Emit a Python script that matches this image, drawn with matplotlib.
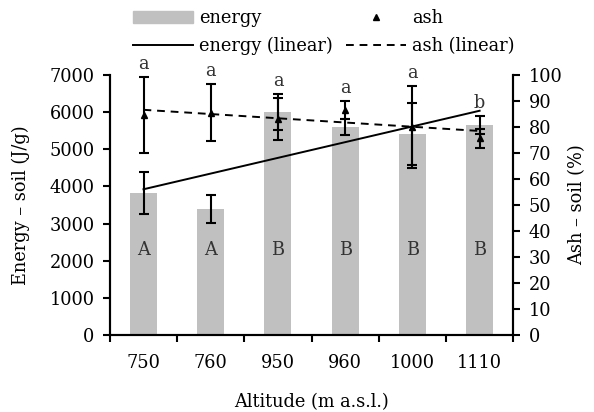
import matplotlib
matplotlib.use("Agg")
import matplotlib.pyplot as plt
from matplotlib.patches import Patch
from matplotlib.lines import Line2D
import numpy as np

altitude = ["750", "760", "950", "960", "1000", "1110"]
energy = [3820, 3390, 6010, 5600, 5410, 5650]
energy_err = [560, 380, 480, 210, 840, 250]
ash = [84.5, 85.5, 83.0, 86.5, 80.0, 75.7]
ash_err = [14.6, 11.0, 8.2, 3.5, 15.6, 3.7]
energy_groups = ["A", "A", "B", "B", "B", "B"]
ash_groups = ["a", "a", "a", "a", "a", "b"]

plt.rcParams['font.family'] = ['DejaVu Serif']
plt.rcParams['font.size'] = 12.8

x = np.arange(len(altitude))

fig = plt.figure(figsize=(5.94, 4.12), dpi=100)
ax = fig.add_axes([0.185, 0.187, 0.679, 0.631])
ax2 = ax.twinx()

ax.bar(x, energy, width=0.4, color='#c0c0c0', zorder=1)
ax.errorbar(x, energy, yerr=energy_err, fmt='none', ecolor='black',
            elinewidth=1.5, capsize=3.3, capthick=1.5, zorder=3)

# linear trends
pe = np.polyfit(x, energy, 1)
ax.plot(x, np.polyval(pe, x), color='black', lw=1.4, zorder=4)

ax2.errorbar(x, ash, yerr=ash_err, fmt='^', color='black', ms=5,
             elinewidth=1.5, capsize=3.3, capthick=1.5, zorder=3)
pa = np.polyfit(x, ash, 1)
ax2.plot(x, np.polyval(pa, x), color='black', lw=1.4, ls=(0, (4, 3)), zorder=4)

for i in x:
    ax.text(i, 2300, energy_groups[i], ha='center', va='center', color='#333333')
    top = max(ash[i] + ash_err[i], (energy[i] + energy_err[i]) / 70.0)
    ax2.annotate(ash_groups[i], (i, top), xytext=(0, 3), textcoords='offset points',
                 ha='center', va='bottom', color='#333333',
                 annotation_clip=False)

ax.set_xlim(-0.5, len(altitude) - 0.5)
ax.set_ylim(0, 7000)
ax2.set_ylim(0, 100)
ax.set_yticks(range(0, 7001, 1000))
ax2.set_yticks(range(0, 101, 10))

ax.set_xticks(x)
ax.set_xticklabels(altitude)
ax.set_xticks(np.arange(-0.5, len(altitude), 1), minor=True)
ax.tick_params(axis='x', which='major', length=0, pad=14)
ax.tick_params(axis='x', which='minor', length=5, width=1.5, direction='out')
ax.tick_params(axis='y', length=5, width=1.5, direction='out', pad=6)
ax2.tick_params(axis='y', length=5, width=1.5, direction='out', pad=6)

for a in (ax, ax2):
    a.spines['top'].set_visible(False)
    for s in ('left', 'right', 'bottom'):
        a.spines[s].set_linewidth(1.5)

ax.set_xlabel("Altitude (m a.s.l.)", labelpad=15)
ax.set_ylabel("Energy – soil (J/g)", labelpad=14)
ax2.set_ylabel("Ash – soil (%)", labelpad=4)

handles = [Patch(color='#c0c0c0'),
           Line2D([], [], color='black', lw=1.4),
           Line2D([], [], color='black', marker='^', ls='none', ms=5),
           Line2D([], [], color='black', lw=1.4, ls=(0, (4, 3)))]
labels = ["energy", "energy (linear)", "ash", "ash (linear)"]
fig.legend(handles, labels, ncol=2, loc='center', bbox_to_anchor=(0.545, 0.922),
           frameon=False, handlelength=3.4, columnspacing=0.7, handletextpad=0.35,
           labelspacing=0.55, borderpad=0)

fig.savefig("out.png", dpi=100)
